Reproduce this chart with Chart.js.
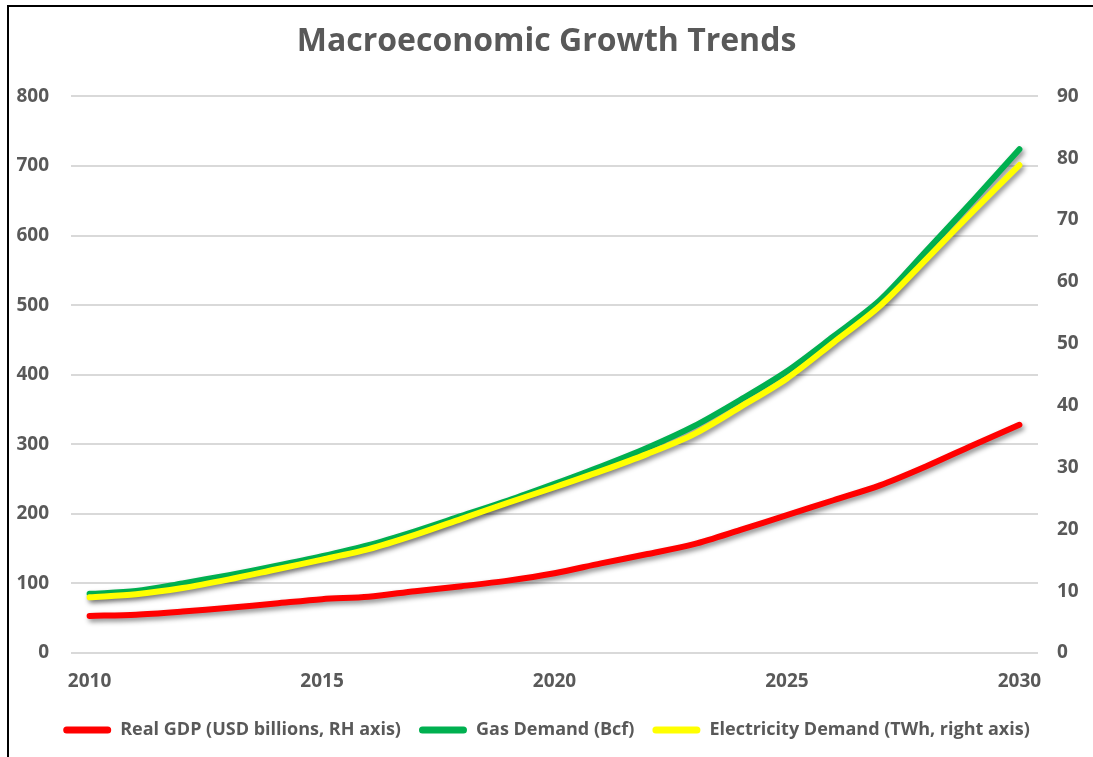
<!DOCTYPE html>
<html lang="en">
<head>
    <meta charset="UTF-8">
    <title>Macroeconomic Growth Trends</title>
    <script src="https://cdn.jsdelivr.net/npm/chart.js"></script>
    <style>
        body {
            margin: 0;
            background: #fff;
        }

        .frame {
            position: relative;
            width: 1093px;
            height: 757px;
        }

        /* black frame on the left and top edge */
        .frame::before {
            content: '';
            position: absolute;
            left: 7px;
            top: 5px;
            right: 0;
            bottom: 0;
            border-left: 2px solid #000;
            border-top: 2px solid #000;
            pointer-events: none;
        }
    </style>
</head>
<body>
    <div class="frame">
        <canvas id="growthChart" width="1093" height="757"></canvas>
    </div>

    <script>
        // yearly series
        const years = [2010, 2011, 2012, 2013, 2014, 2015, 2016, 2017, 2018, 2019, 2020,
            2021, 2022, 2023, 2024, 2025, 2026, 2027, 2028, 2029, 2030];
        const gdpRH = [6.0, 6.2, 6.7, 7.3, 8.0, 8.7, 9.1, 10.0, 10.8, 11.7, 12.9,
            14.5, 16.0, 17.6, 19.9, 22.3, 24.7, 27.1, 30.2, 33.6, 36.9];
        const gasDemand = [85, 89, 100, 112, 125, 139, 155, 175, 197, 219, 243,
            268, 295, 326, 364, 405, 455, 507, 578, 650, 724];
        const elecDemand = [9.0, 9.5, 10.5, 11.9, 13.5, 15.1, 16.8, 19.1, 21.7, 24.3, 26.8,
            29.4, 32.2, 35.4, 39.8, 44.4, 50.2, 56.1, 63.7, 71.4, 78.9];

        // axis ticks
        const xTicks = [2010, 2015, 2020, 2025, 2030];
        const leftTicks = [0, 100, 200, 300, 400, 500, 600, 700, 800];
        const rightTicks = [0, 10, 20, 30, 40, 50, 60, 70, 80, 90];

        const textGray = '#595959';
        const gridGray = '#d9d9d9';
        const boldFont = (size) => ({ family: '"Open Sans", "Noto Sans", sans-serif', size: size, weight: 'bold' });

        const toPoints = (vals) => vals.map((v, i) => ({ x: years[i], y: v }));
        const fixedTicks = (list) => (axis) => { axis.ticks = list.map(v => ({ value: v })); };

        // soft drop shadow under every line
        const lineShadow = {
            id: 'lineShadow',
            beforeDatasetDraw(chart) {
                const c = chart.ctx;
                c.save();
                c.shadowColor = 'rgba(0, 0, 0, 0.45)';
                c.shadowBlur = 5;
                c.shadowOffsetX = 2;
                c.shadowOffsetY = 3;
            },
            afterDatasetDraw(chart) {
                chart.ctx.restore();
            }
        };

        const lineStyle = {
            borderWidth: 6,
            pointRadius: 0,
            pointHoverRadius: 0,
            tension: 0.3,
            borderCapStyle: 'round',
            borderJoinStyle: 'round',
            fill: false
        };

        new Chart(document.getElementById('growthChart'), {
            type: 'line',
            data: {
                datasets: [
                    Object.assign({
                        label: 'Real GDP (USD billions, RH axis)',
                        data: toPoints(gdpRH),
                        borderColor: '#ff0000',
                        backgroundColor: '#ff0000',
                        yAxisID: 'y1',
                        order: 0
                    }, lineStyle),
                    Object.assign({
                        label: 'Gas Demand (Bcf)',
                        data: toPoints(gasDemand),
                        borderColor: '#00b050',
                        backgroundColor: '#00b050',
                        yAxisID: 'y',
                        order: 2
                    }, lineStyle),
                    Object.assign({
                        label: 'Electricity Demand (TWh, right axis)',
                        data: toPoints(elecDemand),
                        borderColor: '#ffff00',
                        backgroundColor: '#ffff00',
                        yAxisID: 'y1',
                        order: 1
                    }, lineStyle)
                ]
            },
            options: {
                responsive: false,
                animation: false,
                layout: { padding: { left: 0, right: 0, top: 0, bottom: 8 } },
                plugins: {
                    title: {
                        display: true,
                        text: 'Macroeconomic Growth Trends',
                        color: textGray,
                        font: boldFont(32),
                        padding: { top: 23, bottom: 35 }
                    },
                    legend: {
                        position: 'bottom',
                        labels: {
                            color: textGray,
                            font: boldFont(18),
                            boxWidth: 48,
                            boxHeight: 7,
                            useBorderRadius: true,
                            borderRadius: 3.5,
                            padding: 18,
                            sort: (a, b) => a.datasetIndex - b.datasetIndex,
                            generateLabels: (chart) => Chart.defaults.plugins.legend.labels
                                .generateLabels(chart)
                                .map(item => Object.assign(item, { lineWidth: 0 }))
                        }
                    },
                    tooltip: { enabled: false }
                },
                scales: {
                    x: {
                        type: 'linear',
                        min: 2009.6,
                        max: 2030.4,
                        afterBuildTicks: fixedTicks(xTicks),
                        afterFit: (s) => { s.height = 50; },
                        grid: { display: false, drawTicks: false },
                        border: { display: false },
                        ticks: {
                            color: textGray,
                            font: boldFont(19),
                            padding: 17,
                            autoSkip: false,
                            maxRotation: 0,
                            callback: (v) => String(v)
                        }
                    },
                    y: {
                        position: 'left',
                        min: 0,
                        max: 800,
                        afterBuildTicks: fixedTicks(leftTicks),
                        afterFit: (s) => { s.width = 71; },
                        grid: { color: gridGray, lineWidth: 2, drawTicks: false },
                        border: { display: false },
                        ticks: {
                            color: textGray,
                            font: boldFont(19),
                            padding: 22,
                            callback: (v) => String(v)
                        }
                    },
                    y1: {
                        position: 'right',
                        min: 0,
                        max: 90,
                        afterBuildTicks: fixedTicks(rightTicks),
                        afterFit: (s) => { s.width = 55; },
                        grid: { display: false, drawTicks: false },
                        border: { display: false },
                        ticks: {
                            color: textGray,
                            font: boldFont(19),
                            padding: 19,
                            callback: (v) => String(v)
                        }
                    }
                }
            },
            plugins: [lineShadow]
        });
    </script>
</body>
</html>
